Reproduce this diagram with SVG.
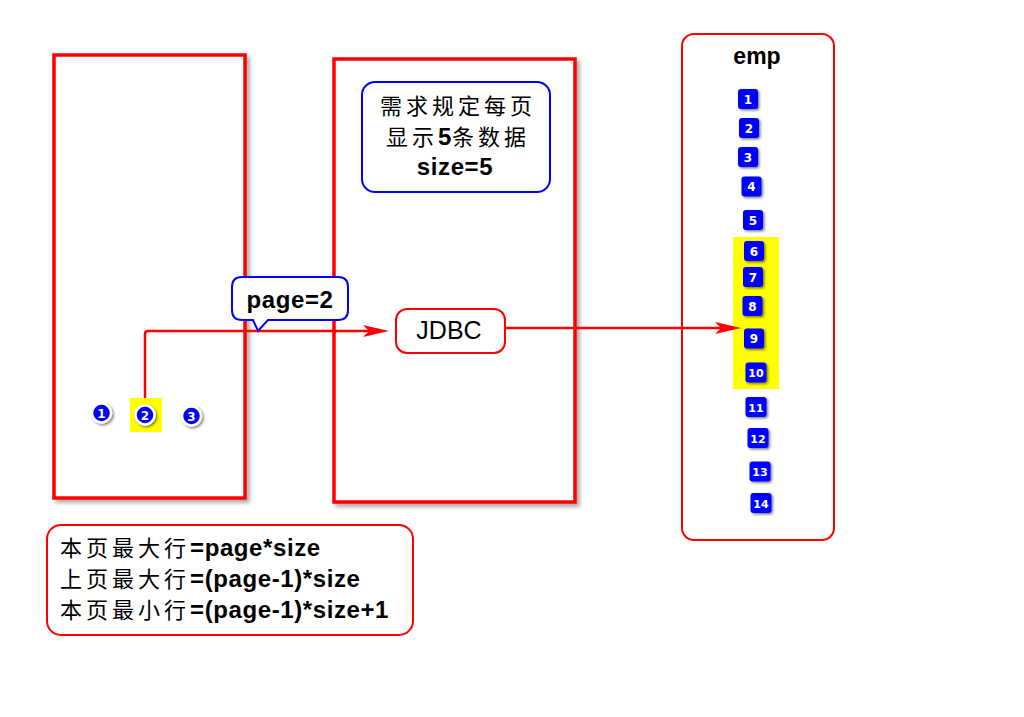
<svg xmlns="http://www.w3.org/2000/svg" width="1024" height="717" viewBox="0 0 1024 717">
<defs>
<filter id="sh" x="-20%" y="-20%" width="140%" height="140%">
<feDropShadow dx="3" dy="3" stdDeviation="2" flood-color="#000" flood-opacity="0.35"/>
</filter>
<filter id="bsh" x="-50%" y="-50%" width="200%" height="200%">
<feDropShadow dx="1.5" dy="1.5" stdDeviation="1.2" flood-color="#000" flood-opacity="0.5"/>
</filter>
<marker id="arr" markerUnits="userSpaceOnUse" viewBox="0 0 26 12" refX="6" refY="6" markerWidth="26" markerHeight="12" orient="auto">
<path d="M0,0 L26,6 L0,12 L6,6 Z" fill="#FF0000"/>
</marker>
</defs>
<style>
.frame{fill:#fff;stroke:#FF0000;stroke-width:3.5;filter:url(#sh)}
.rbox{fill:#fff;stroke:#FF0000;stroke-width:2}
.bbox{fill:#fff;stroke:#0000FF;stroke-width:2}
.hl{fill:#FFFF00}
.badge rect{fill:#0000FF;filter:url(#bsh)}
.badge text{fill:#fff;font-family:"DejaVu Sans",sans-serif;font-weight:bold;font-size:12px;text-anchor:middle}
.dot circle{fill:#0000FF;stroke:#fff;stroke-width:2.5;filter:url(#bsh)}
.dot text{fill:#fff;font-family:"DejaVu Sans",sans-serif;font-weight:bold;font-size:12px;text-anchor:middle}
.cn{font-family:"Noto Sans CJK SC","Liberation Sans",sans-serif;font-size:22px;letter-spacing:4px;fill:#000}
.lat{font-family:"Liberation Sans",Arial,sans-serif;font-weight:bold;font-size:24px;letter-spacing:0.6px;fill:#000}
.conn{fill:none;stroke:#FF0000;stroke-width:2.5}
</style>
<rect width="1024" height="717" fill="#fff"/>

<g id="page-list">
<rect class="frame" x="54" y="55" width="191" height="443"/>
<rect class="hl" x="130" y="398" width="32" height="34"/>
<g class="dot" id="p1"><circle cx="101.5" cy="413" r="9.5"/><text x="101.5" y="417.5">1</text></g>
<g class="dot" id="p2"><circle cx="145" cy="415" r="9.5"/><text x="145" y="419.5">2</text></g>
<g class="dot" id="p3"><circle cx="191.5" cy="416" r="9.5"/><text x="191.5" y="420.5">3</text></g>
</g>

<g id="server">
<rect class="frame" x="334" y="59" width="241" height="443"/>
</g>

<g id="rule-note">
<rect class="bbox" x="362" y="82" width="188" height="110" rx="13"/>
<text x="458" y="114" text-anchor="middle" class="cn">需求规定每页</text>
<text x="458" y="145" text-anchor="middle"><tspan class="cn">显示</tspan><tspan class="lat">5</tspan><tspan class="cn">条数据</tspan></text>
<text x="455" y="175" text-anchor="middle" class="lat">size=5</text>
</g>

<g id="jdbc">
<rect class="rbox" x="396" y="309" width="109" height="44" rx="11"/>
<text x="449" y="339" text-anchor="middle" font-family="Liberation Sans,Arial,sans-serif" font-size="25">JDBC</text>
</g>

<g id="emp">
<rect class="rbox" x="682" y="34" width="152" height="506" rx="12"/>
<text x="757" y="64" text-anchor="middle" font-family="Liberation Sans,Arial,sans-serif" font-weight="bold" font-size="23">emp</text>
<rect class="hl" x="733" y="237" width="46" height="152"/>
<g class="badge" id="r1"><rect x="738" y="89" width="20" height="20" rx="3"/><text x="748" y="103.5">1</text></g>
<g class="badge" id="r2"><rect x="739" y="118" width="20" height="20" rx="3"/><text x="749" y="132.5">2</text></g>
<g class="badge" id="r3"><rect x="738" y="147" width="20" height="20" rx="3"/><text x="748" y="161.5">3</text></g>
<g class="badge" id="r4"><rect x="741.5" y="176.5" width="20" height="20" rx="3"/><text x="751.5" y="191">4</text></g>
<g class="badge" id="r5"><rect x="743" y="210" width="20" height="20" rx="3"/><text x="753" y="224.5">5</text></g>
<g class="badge" id="r6"><rect x="744" y="241" width="20" height="20" rx="3"/><text x="754" y="255.5">6</text></g>
<g class="badge" id="r7"><rect x="743" y="267" width="20" height="20" rx="3"/><text x="753" y="281.5">7</text></g>
<g class="badge" id="r8"><rect x="742.5" y="296" width="20" height="20" rx="3"/><text x="752.5" y="310.5">8</text></g>
<g class="badge" id="r9"><rect x="744" y="328.5" width="20" height="20" rx="3"/><text x="754" y="343">9</text></g>
<g class="badge" id="r10"><rect x="745.5" y="362.5" width="21" height="20" rx="3"/><text x="756" y="377" style="font-size:11px">10</text></g>
<g class="badge" id="r11"><rect x="745.5" y="397" width="21" height="20" rx="3"/><text x="756" y="411.5" style="font-size:11px">11</text></g>
<g class="badge" id="r12"><rect x="747.5" y="428" width="21" height="20" rx="3"/><text x="758" y="442.5" style="font-size:11px">12</text></g>
<g class="badge" id="r13"><rect x="749.5" y="461.5" width="21" height="20" rx="3"/><text x="760" y="476" style="font-size:11px">13</text></g>
<g class="badge" id="r14"><rect x="750.5" y="493" width="21" height="20" rx="3"/><text x="761" y="507.5" style="font-size:11px">14</text></g>
</g>

<g id="connectors">
<path class="conn" d="M145,398 L145,334 Q145,331 148,331 L369,331" marker-end="url(#arr)"/>
<path class="conn" d="M505,328 L721,328" marker-end="url(#arr)"/>
</g>

<g id="page-callout">
<path d="M242,277 L338,277 Q348,277 348,287 L348,310 Q348,320 338,320 L268,320 L258,331 L253,320 L242,320 Q232,320 232,310 L232,287 Q232,277 242,277 Z" fill="#fff" stroke="#0000FF" stroke-width="2"/>
<text x="290" y="308" text-anchor="middle" class="lat">page=2</text>
</g>

<g id="formula">
<rect class="rbox" x="47" y="525" width="366" height="110" rx="14"/>
<text x="60" y="556"><tspan class="cn">本页最大行</tspan><tspan class="lat">=page*size</tspan></text>
<text x="60" y="587"><tspan class="cn">上页最大行</tspan><tspan class="lat">=(page-1)*size</tspan></text>
<text x="60" y="618"><tspan class="cn">本页最小行</tspan><tspan class="lat">=(page-1)*size+1</tspan></text>
</g>
</svg>
